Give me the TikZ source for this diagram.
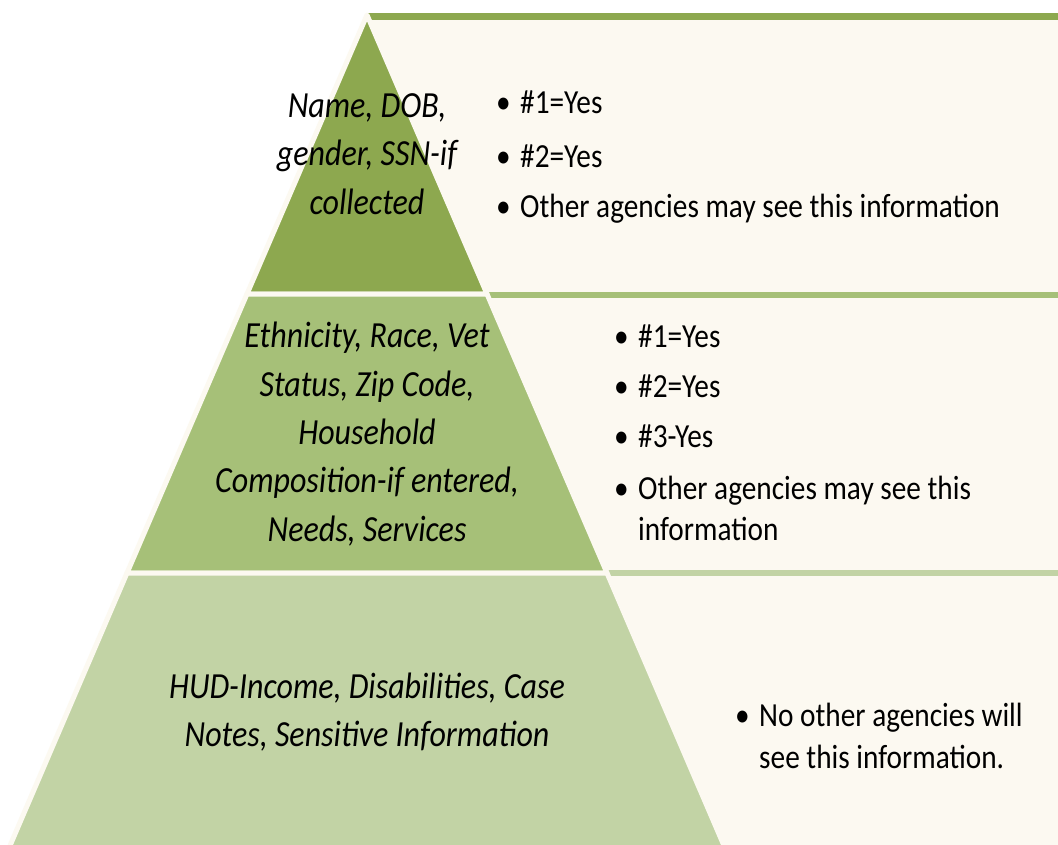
\documentclass[tikz,border=0pt]{standalone}
\usepackage{fontspec}
\setmainfont{Carlito}
\usetikzlibrary{positioning}

\definecolor{tierA}{RGB}{141,168,79}
\definecolor{tierB}{RGB}{166,192,120}
\definecolor{tierC}{RGB}{194,211,165}
\definecolor{cream}{RGB}{252,249,241}

\newcommand{\bitem}[1]{\makebox[24pt][l]{\textbullet}#1}

\begin{document}
\begin{tikzpicture}[x=1pt,y=-1pt]
		\tikzstyle{tier} = [draw=cream,line width=5pt,line join=round]
		\tikzstyle{tiertext} = [align=center,inner sep=0,yscale=1.15,transform shape,font=\itshape\fontsize{32}{42}\selectfont]
		\tikzstyle{bulletitem} = [anchor=base west,inner sep=0,yscale=1.15,transform shape,font=\fontsize{29.3}{35}\selectfont]
		
		\clip (0,0) rectangle (1058,844);
		\fill [white] (0,0) rectangle (1058,844);
		
		% Boxes on the right
		\fill [cream] (367,15) -- (1058,15) -- (1058,850) -- (726,850) -- cycle;
		\fill [tierA] (367,13) rectangle (1058,20);
		\fill [tierB] (480,292) rectangle (1058,298);
		\fill [tierC] (600,570) rectangle (1058,576);
		
		% Pyramid
		\filldraw [tier,fill=tierA] (367,15) -- (487,294) -- (247,294) -- cycle;
		\filldraw [tier,fill=tierB] (247,294) -- (487,294) -- (607,573) -- (127,573) -- cycle;
		\filldraw [tier,fill=tierC] (127,573) -- (607,573) -- (728,855) -- (6,855) -- cycle;
		
		% Nodes
		\node [tiertext] (top) at (367,154) {Name, DOB,\\gender, SSN-if\\collected};
		\node [tiertext] (middle) at (367,434) {Ethnicity, Race, Vet\\Status, Zip Code,\\Household\\Composition-if entered,\\Needs, Services};
		\node [tiertext] (bottom) at (367,712) {HUD-Income, Disabilities, Case\\Notes, Sensitive Information};
		
		% Lists
		\node [bulletitem] (topA) at (496,113) {\bitem{\#1=Yes}};
		\node [bulletitem] (topB) at (496,167) {\bitem{\#2=Yes}};
		\node [bulletitem] (topC) at (496,217) {\bitem{Other agencies may see this information}};
		
		\node [bulletitem] (midA) at (614,347) {\bitem{\#1=Yes}};
		\node [bulletitem] (midB) at (614,397) {\bitem{\#2=Yes}};
		\node [bulletitem] (midC) at (614,447) {\bitem{\#3-Yes}};
		\node [bulletitem] (midD) at (614,499) {\bitem{Other agencies may see this}};
		\node [bulletitem] (midE) at (638,540) {information};
		
		\node [bulletitem] (botA) at (735,726) {\bitem{No other agencies will}};
		\node [bulletitem] (botB) at (759,768) {see this information.};
	\end{tikzpicture}
\end{document}
